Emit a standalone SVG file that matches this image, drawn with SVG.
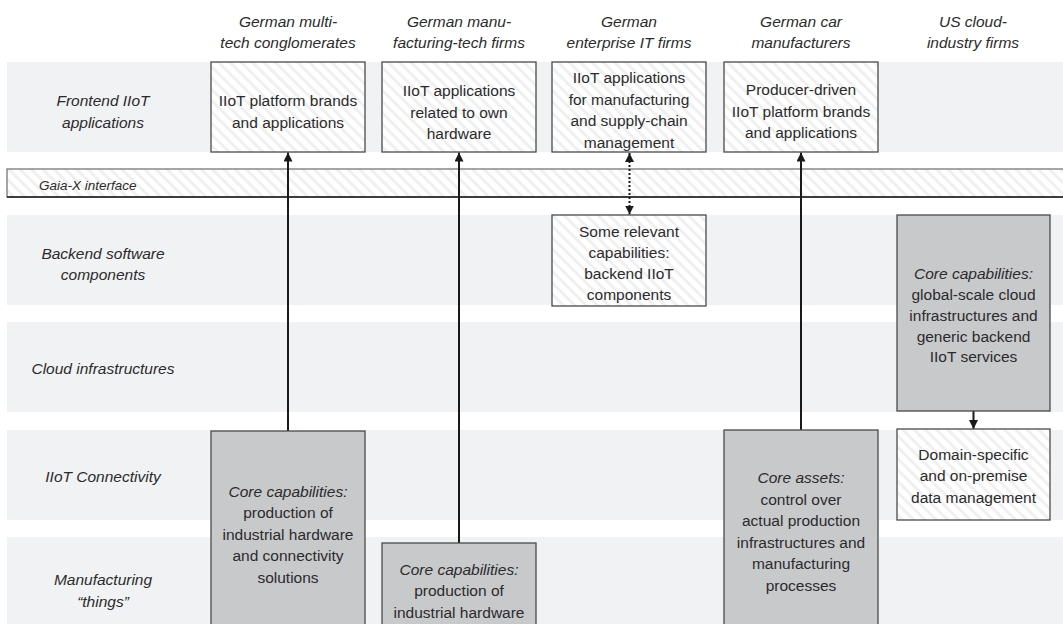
<svg xmlns="http://www.w3.org/2000/svg" width="1063" height="624" viewBox="0 0 1063 624">
  <defs>
    <pattern id="hatch" patternUnits="userSpaceOnUse" width="8" height="8" patternTransform="rotate(45)">
      <rect width="8" height="8" fill="#ffffff"/>
      <rect width="8" height="3" fill="#f0f0f0"/>
    </pattern>
    <marker id="ah" viewBox="0 0 10 10" refX="10" refY="5" markerUnits="userSpaceOnUse" markerWidth="9" markerHeight="9" orient="auto-start-reverse">
      <path d="M0,0 L10,5 L0,10 Z" fill="#1a1a1a"/>
    </marker>
    <style>
      .band { fill: #f1f2f4; }
      .hbox { fill: url(#hatch); stroke: #4a4a4a; stroke-width: 1.3; }
      .gbox { fill: #c8c9cb; stroke: #4a4a4a; stroke-width: 1.3; }
      text { font-family: "Liberation Sans", Arial, sans-serif; fill: #2b2b2b; text-anchor: middle; }
      .hdr { font-size: 15.5px; font-style: italic; }
      .row { font-size: 15.5px; font-style: italic; }
      .bt { font-size: 15.5px; }
      .it { font-style: italic; }
      .gaia { font-size: 13.5px; font-style: italic; text-anchor: start; }
      .conn { stroke: #1a1a1a; stroke-width: 2; fill: none; }
      .dot { stroke-dasharray: 2 2; }
    </style>
  </defs>

  <rect width="1063" height="624" fill="#ffffff"/>

  <g id="bands">
    <rect class="band" x="7" y="62" width="1056" height="90"/>
    <rect class="band" x="7" y="215" width="1056" height="90"/>
    <rect class="band" x="7" y="322" width="1056" height="90"/>
    <rect class="band" x="7" y="430" width="1056" height="90"/>
    <rect class="band" x="7" y="537" width="1056" height="87"/>
  </g>

  <g id="gaia-x">
    <rect x="7" y="169" width="1060" height="28" fill="url(#hatch)" stroke="#777" stroke-width="1.3"/>
    <line x1="7" y1="197" x2="1063" y2="197" stroke="#1a1a1a" stroke-width="1.5"/>
    <text class="gaia" x="39" y="190">Gaia-X interface</text>
  </g>

  <g id="headers">
    <text class="hdr" x="288" y="27">German multi-</text>
    <text class="hdr" x="288" y="48">tech conglomerates</text>
    <text class="hdr" x="459" y="27">German manu-</text>
    <text class="hdr" x="459" y="48">facturing-tech firms</text>
    <text class="hdr" x="629" y="27">German</text>
    <text class="hdr" x="629" y="48">enterprise IT firms</text>
    <text class="hdr" x="801" y="27">German car</text>
    <text class="hdr" x="801" y="48">manufacturers</text>
    <text class="hdr" x="973" y="27">US cloud-</text>
    <text class="hdr" x="973" y="48">industry firms</text>
  </g>

  <g id="row-labels">
    <text class="row" x="103" y="105.5">Frontend IIoT</text>
    <text class="row" x="103" y="127.5">applications</text>
    <text class="row" x="103" y="258.5">Backend software</text>
    <text class="row" x="103" y="279.5">components</text>
    <text class="row" x="103" y="373.5">Cloud infrastructures</text>
    <text class="row" x="103" y="482">IIoT Connectivity</text>
    <text class="row" x="103" y="585">Manufacturing</text>
    <text class="row" x="103" y="607">“things”</text>
  </g>

  <g id="connectors">
    <line class="conn" x1="288" y1="431" x2="288" y2="152.5" marker-end="url(#ah)"/>
    <line class="conn" x1="459" y1="543" x2="459" y2="152.5" marker-end="url(#ah)"/>
    <line class="conn dot" x1="629.5" y1="153" x2="629.5" y2="214.5" marker-start="url(#ah)" marker-end="url(#ah)"/>
    <line class="conn" x1="801" y1="430" x2="801" y2="152.5" marker-end="url(#ah)"/>
    <line class="conn" x1="973.5" y1="411" x2="973.5" y2="429" marker-end="url(#ah)"/>
  </g>

  <g id="n-multitech-frontend">
    <rect class="hbox" x="211" y="62" width="154" height="90"/>
    <text class="bt" x="288" y="105.5">IIoT platform brands</text>
    <text class="bt" x="288" y="127.5">and applications</text>
  </g>

  <g id="n-manutech-frontend">
    <rect class="hbox" x="382" y="62" width="154" height="90"/>
    <text class="bt" x="459" y="96">IIoT applications</text>
    <text class="bt" x="459" y="117.5">related to own</text>
    <text class="bt" x="459" y="139">hardware</text>
  </g>

  <g id="n-enterprise-frontend">
    <rect class="hbox" x="552" y="62" width="154" height="90"/>
    <text class="bt" x="629" y="83">IIoT applications</text>
    <text class="bt" x="629" y="104.5">for manufacturing</text>
    <text class="bt" x="629" y="126">and supply-chain</text>
    <text class="bt" x="629" y="147.5">management</text>
  </g>

  <g id="n-car-frontend">
    <rect class="hbox" x="724" y="62" width="154" height="90"/>
    <text class="bt" x="801" y="95">Producer-driven</text>
    <text class="bt" x="801" y="116.5">IIoT platform brands</text>
    <text class="bt" x="801" y="138">and applications</text>
  </g>

  <g id="n-enterprise-backend">
    <rect class="hbox" x="552" y="215" width="154" height="91"/>
    <text class="bt" x="629" y="236.5">Some relevant</text>
    <text class="bt" x="629" y="258">capabilities:</text>
    <text class="bt" x="629" y="279">backend IIoT</text>
    <text class="bt" x="629" y="300">components</text>
  </g>

  <g id="n-us-cloud">
    <rect class="gbox" x="897" y="215" width="153" height="196"/>
    <text class="bt it" x="973.5" y="279">Core capabilities:</text>
    <text class="bt" x="973.5" y="300">global-scale cloud</text>
    <text class="bt" x="973.5" y="321">infrastructures and</text>
    <text class="bt" x="973.5" y="341.5">generic backend</text>
    <text class="bt" x="973.5" y="362">IIoT services</text>
  </g>

  <g id="n-us-domain">
    <rect class="hbox" x="897" y="429" width="153" height="91"/>
    <text class="bt" x="973.5" y="459.5">Domain-specific</text>
    <text class="bt" x="973.5" y="481">and on-premise</text>
    <text class="bt" x="973.5" y="502.5">data management</text>
  </g>

  <g id="n-multitech-core">
    <rect class="gbox" x="211" y="431" width="154" height="200"/>
    <text class="bt it" x="288" y="496.5">Core capabilities:</text>
    <text class="bt" x="288" y="518">production of</text>
    <text class="bt" x="288" y="539.5">industrial hardware</text>
    <text class="bt" x="288" y="561">and connectivity</text>
    <text class="bt" x="288" y="582.5">solutions</text>
  </g>

  <g id="n-manutech-core">
    <rect class="gbox" x="382" y="543" width="154" height="90"/>
    <text class="bt it" x="459" y="574.5">Core capabilities:</text>
    <text class="bt" x="459" y="596">production of</text>
    <text class="bt" x="459" y="617.5">industrial hardware</text>
  </g>

  <g id="n-car-core">
    <rect class="gbox" x="724" y="430" width="154" height="200"/>
    <text class="bt it" x="801" y="483">Core assets:</text>
    <text class="bt" x="801" y="504.5">control over</text>
    <text class="bt" x="801" y="526">actual production</text>
    <text class="bt" x="801" y="547.5">infrastructures and</text>
    <text class="bt" x="801" y="569">manufacturing</text>
    <text class="bt" x="801" y="590.5">processes</text>
  </g>
</svg>
